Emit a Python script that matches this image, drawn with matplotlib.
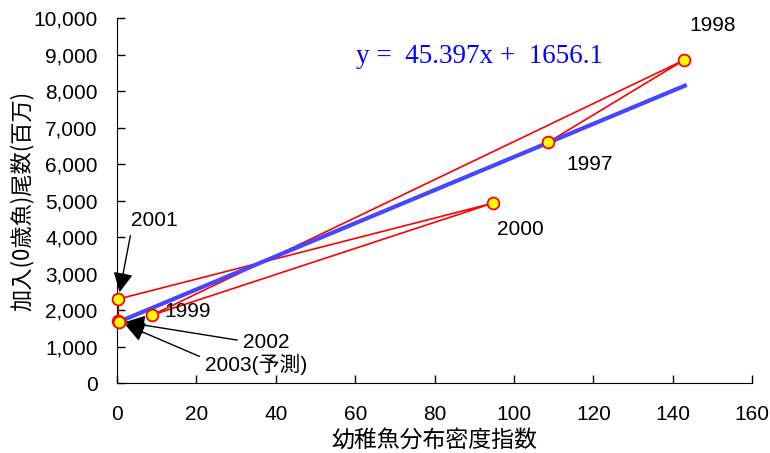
import matplotlib
matplotlib.use("Agg")
import matplotlib.pyplot as plt
import numpy as np
from matplotlib.ticker import FuncFormatter, MultipleLocator

plt.rcParams['font.family'] = ['Liberation Sans', 'Noto Sans CJK JP', 'DejaVu Sans']

years = ["1997", "1998", "1999", "2000", "2001", "2002", "2003(予測)"]
density = [108.6, 142.8, 8.8, 94.7, 0.3, 0.3, 0.4]
recruits = [6600, 8850, 1860, 4930, 2300, 1700, 1680]
slope, intercept = 45.397, 1656.1
fit_x = [0, 143]

fig = plt.figure(figsize=(7.7, 4.53), dpi=100)
ax = fig.add_axes([0.152, 0.1545, 0.825, 0.8055])

ax.plot(density, recruits, color='#ff0000', lw=1.2, zorder=2)
fx = np.array(fit_x)
ax.plot(fx, slope * fx + intercept, color='#4646ff', lw=3, zorder=3)
ax.plot(density, recruits, 'o', ms=8.5, mfc='#ffff00', mec='#ff0000', mew=1.3, lw=0, zorder=4, clip_on=False)

ax.set_xlim(0, 160)
ax.set_ylim(0, 10000)
ax.xaxis.set_major_locator(MultipleLocator(20))
ax.yaxis.set_major_locator(MultipleLocator(1000))
ax.yaxis.set_major_formatter(FuncFormatter(lambda v, p: f"{int(v):,}"))
ax.tick_params(direction='in', length=6, labelsize=15, width=1)
ax.tick_params(axis='x', pad=16)
ax.tick_params(axis='y', pad=14)
for s in ['top', 'right']:
    ax.spines[s].set_visible(False)

ax.set_xlabel("幼稚魚分布密度指数", fontsize=16.5, family=['Noto Sans CJK JP'], labelpad=0)
ax.xaxis.set_label_coords(0.5, -0.125)
ax.set_ylabel("加入(0歳魚)尾数(百万)", fontsize=16, family=['Noto Sans CJK JP'], va='center')
ax.yaxis.set_label_coords(-0.15, 0.5)

ax.text(0.57, 0.895, f"y =  {slope}x +  {intercept}", transform=ax.transAxes,
        ha='center', va='center', fontsize=19.5, color='#0000ff', family='Liberation Serif')

lab = dict(fontsize=15, color='black')
ax.text(150, 9800, "1998", ha='center', va='center', **lab)
ax.text(119, 6000, "1997", ha='center', va='center', **lab)
ax.text(101.5, 4200, "2000", ha='center', va='center', **lab)
ax.text(12, 1970, "1999", ha='left', va='center', **lab)

aprops = dict(arrowstyle='-|>,head_length=0.6,head_width=0.3', color='black', lw=1,
              mutation_scale=20, shrinkA=2, shrinkB=5)
ax.annotate("2001", xy=(density[4], recruits[4]), xytext=(9.5, 4450), ha='center', va='center',
            arrowprops=dict(aprops, relpos=(0.0, 0.0)), **lab)
ax.annotate("2002", xy=(density[5], recruits[5]), xytext=(37.5, 1100), ha='center', va='center',
            arrowprops=dict(aprops, relpos=(0.0, 0.6)), **lab)
ax.annotate("2003(予測)", xy=(density[6], recruits[6]), xytext=(35, 520), ha='center', va='center',
            arrowprops=dict(aprops, relpos=(0.0, 0.75)),
            fontsize=15, family=['Liberation Sans', 'Noto Sans CJK JP'])

fig.savefig("out.png", dpi=100)
